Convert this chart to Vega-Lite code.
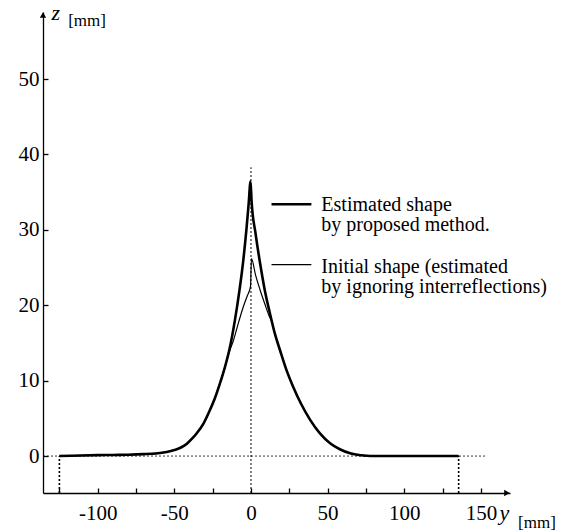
{
  "$schema": "https://vega.github.io/schema/vega-lite/v6.json",
  "width": 467,
  "height": 481,
  "autosize": {"type": "none"},
  "padding": {"left": 43, "top": 12, "right": 61, "bottom": 39},
  "background": "white",
  "config": {
    "view": {"stroke": null},
    "font": "Liberation Serif",
    "axis": {
      "grid": false,
      "domainColor": "black",
      "domainWidth": 1.3,
      "tickColor": "black",
      "tickWidth": 1.3,
      "tickSize": -5,
      "labelColor": "black",
      "labelFont": "Liberation Serif",
      "labelFontSize": 21,
      "title": null
    }
  },
  "datasets": {
    "curves": [
      {"series": "Estimated shape", "y": -125, "z": 0.0},
      {"series": "Estimated shape", "y": -110, "z": 0.08},
      {"series": "Estimated shape", "y": -100, "z": 0.12},
      {"series": "Estimated shape", "y": -90, "z": 0.15},
      {"series": "Estimated shape", "y": -80, "z": 0.18},
      {"series": "Estimated shape", "y": -70, "z": 0.25},
      {"series": "Estimated shape", "y": -62, "z": 0.35},
      {"series": "Estimated shape", "y": -55, "z": 0.55},
      {"series": "Estimated shape", "y": -50, "z": 0.8},
      {"series": "Estimated shape", "y": -46, "z": 1.1},
      {"series": "Estimated shape", "y": -42, "z": 1.6},
      {"series": "Estimated shape", "y": -38.5, "z": 2.3},
      {"series": "Estimated shape", "y": -35.5, "z": 3.0},
      {"series": "Estimated shape", "y": -31, "z": 4.3},
      {"series": "Estimated shape", "y": -27, "z": 6.0},
      {"series": "Estimated shape", "y": -23.5, "z": 7.7},
      {"series": "Estimated shape", "y": -20.3, "z": 9.6},
      {"series": "Estimated shape", "y": -17, "z": 11.8},
      {"series": "Estimated shape", "y": -14, "z": 14.2},
      {"series": "Estimated shape", "y": -10.5, "z": 18.0},
      {"series": "Estimated shape", "y": -7.5, "z": 22.0},
      {"series": "Estimated shape", "y": -5, "z": 26.0},
      {"series": "Estimated shape", "y": -3, "z": 30.0},
      {"series": "Estimated shape", "y": -1.5, "z": 33.5},
      {"series": "Estimated shape", "y": -0.3, "z": 36.4},
      {"series": "Estimated shape", "y": 0.4, "z": 33.8},
      {"series": "Estimated shape", "y": 3, "z": 29.5},
      {"series": "Estimated shape", "y": 6, "z": 25.5},
      {"series": "Estimated shape", "y": 9, "z": 22.0},
      {"series": "Estimated shape", "y": 12.4, "z": 18.9},
      {"series": "Estimated shape", "y": 15.5, "z": 16.3},
      {"series": "Estimated shape", "y": 19, "z": 14.0},
      {"series": "Estimated shape", "y": 23, "z": 11.5},
      {"series": "Estimated shape", "y": 27.5, "z": 9.2},
      {"series": "Estimated shape", "y": 32.5, "z": 7.0},
      {"series": "Estimated shape", "y": 38.6, "z": 4.8},
      {"series": "Estimated shape", "y": 45, "z": 3.0},
      {"series": "Estimated shape", "y": 51.6, "z": 1.7},
      {"series": "Estimated shape", "y": 58, "z": 0.9},
      {"series": "Estimated shape", "y": 64.7, "z": 0.36},
      {"series": "Estimated shape", "y": 72, "z": 0.1},
      {"series": "Estimated shape", "y": 78, "z": 0.0},
      {"series": "Estimated shape", "y": 100, "z": 0.0},
      {"series": "Estimated shape", "y": 135.5, "z": 0.0},
      {"series": "Initial shape", "y": -125, "z": 0.0},
      {"series": "Initial shape", "y": -110, "z": 0.08},
      {"series": "Initial shape", "y": -100, "z": 0.12},
      {"series": "Initial shape", "y": -90, "z": 0.15},
      {"series": "Initial shape", "y": -80, "z": 0.18},
      {"series": "Initial shape", "y": -70, "z": 0.25},
      {"series": "Initial shape", "y": -62, "z": 0.35},
      {"series": "Initial shape", "y": -55, "z": 0.55},
      {"series": "Initial shape", "y": -50, "z": 0.8},
      {"series": "Initial shape", "y": -46, "z": 1.1},
      {"series": "Initial shape", "y": -42, "z": 1.6},
      {"series": "Initial shape", "y": -38.5, "z": 2.3},
      {"series": "Initial shape", "y": -35.5, "z": 3.0},
      {"series": "Initial shape", "y": -31, "z": 4.3},
      {"series": "Initial shape", "y": -27, "z": 6.0},
      {"series": "Initial shape", "y": -23.5, "z": 7.7},
      {"series": "Initial shape", "y": -20.3, "z": 9.6},
      {"series": "Initial shape", "y": -17, "z": 11.8},
      {"series": "Initial shape", "y": -14, "z": 13.9},
      {"series": "Initial shape", "y": -11.5, "z": 15.3},
      {"series": "Initial shape", "y": -8, "z": 17.8},
      {"series": "Initial shape", "y": -5, "z": 19.8},
      {"series": "Initial shape", "y": -2.5, "z": 21.2},
      {"series": "Initial shape", "y": -0.3, "z": 22.5},
      {"series": "Initial shape", "y": 0.3, "z": 26.2},
      {"series": "Initial shape", "y": 3, "z": 24.0},
      {"series": "Initial shape", "y": 6, "z": 22.0},
      {"series": "Initial shape", "y": 9, "z": 20.2},
      {"series": "Initial shape", "y": 12, "z": 18.5},
      {"series": "Initial shape", "y": 14, "z": 17.6},
      {"series": "Initial shape", "y": 15.5, "z": 16.3},
      {"series": "Initial shape", "y": 19, "z": 14.0},
      {"series": "Initial shape", "y": 23, "z": 11.5},
      {"series": "Initial shape", "y": 27.5, "z": 9.2},
      {"series": "Initial shape", "y": 32.5, "z": 7.0},
      {"series": "Initial shape", "y": 38.6, "z": 4.8},
      {"series": "Initial shape", "y": 45, "z": 3.0},
      {"series": "Initial shape", "y": 51.6, "z": 1.7},
      {"series": "Initial shape", "y": 58, "z": 0.9},
      {"series": "Initial shape", "y": 64.7, "z": 0.36},
      {"series": "Initial shape", "y": 72, "z": 0.1},
      {"series": "Initial shape", "y": 78, "z": 0.0},
      {"series": "Initial shape", "y": 100, "z": 0.0},
      {"series": "Initial shape", "y": 135.5, "z": 0.0}
    ],
    "zeroline": [{"y": -135.7, "y2": 154, "z": 0}],
    "centerline": [{"y": 0, "z": -4.9, "z2": 38.3}],
    "endlines": [
      {"y": -125, "z": -4.9, "z2": 0},
      {"y": 135.5, "z": -4.9, "z2": 0}
    ],
    "legendlines": [
      {"series": "Estimated shape", "y": 13.4, "y2": 39.4, "z": 33.4},
      {"series": "Initial shape", "y": 13.4, "y2": 39.4, "z": 25.4}
    ],
    "legendtext": [
      {"y": 45.9, "z": 32.5, "label": "Estimated shape\nby proposed method."},
      {"y": 45.9, "z": 24.3, "label": "Initial shape (estimated\nby ignoring interreflections)"}
    ],
    "arrows": [
      {"y": 167, "z": -4.9, "shape": "triangle-right"},
      {"y": -135.7, "z": 58.5, "shape": "triangle-up"}
    ],
    "axisletters": [
      {"y": -130.2, "z": 57.9, "label": "z"},
      {"y": 162.2, "z": -8.5, "label": "y"}
    ],
    "axisunits": [
      {"y": -119.3, "z": 57.0, "label": "[mm]"},
      {"y": 174.3, "z": -9.55, "label": "[mm]"}
    ]
  },
  "layer": [
    {
      "data": {"name": "zeroline"},
      "mark": {"type": "rule", "color": "black", "strokeWidth": 0.8, "strokeDash": [2, 2]},
      "encoding": {
        "x": {
          "field": "y", "type": "quantitative",
          "scale": {"domain": [-135.7, 169], "nice": false, "zero": false},
          "axis": {
            "values": [-125, -100, -75, -50, -25, 0, 25, 50, 75, 100, 125, 150],
            "labelExpr": "datum.value % 50 === 0 ? '' + datum.value : ''",
            "labelPadding": 14,
            "labelBaseline": "top",
            "labelFlush": false,
            "labelOverlap": false
          }
        },
        "x2": {"field": "y2"},
        "y": {
          "field": "z", "type": "quantitative",
          "scale": {"domain": [-4.9, 58.9], "nice": false, "zero": false},
          "axis": {
            "values": [0, 10, 20, 30, 40, 50],
            "labelExpr": "'' + datum.value",
            "labelPadding": 9,
            "labelFlush": false,
            "labelOverlap": false
          }
        }
      }
    },
    {
      "data": {"name": "centerline"},
      "mark": {"type": "rule", "color": "black", "strokeWidth": 1, "strokeDash": [2, 2]},
      "encoding": {
        "x": {"field": "y", "type": "quantitative"},
        "y": {"field": "z", "type": "quantitative"},
        "y2": {"field": "z2"}
      }
    },
    {
      "data": {"name": "endlines"},
      "mark": {"type": "rule", "color": "black", "strokeWidth": 1.6, "strokeDash": [2, 2]},
      "encoding": {
        "x": {"field": "y", "type": "quantitative"},
        "y": {"field": "z", "type": "quantitative"},
        "y2": {"field": "z2"}
      }
    },
    {
      "data": {"name": "curves"},
      "mark": {"type": "line", "color": "black", "strokeJoin": "round", "interpolate": "monotone"},
      "encoding": {
        "x": {"field": "y", "type": "quantitative"},
        "y": {"field": "z", "type": "quantitative"},
        "detail": {"field": "series"},
        "strokeWidth": {
          "field": "series", "type": "nominal",
          "scale": {"domain": ["Estimated shape", "Initial shape"], "range": [2.6, 1.2]},
          "legend": null
        }
      }
    },
    {
      "data": {"name": "legendlines"},
      "mark": {"type": "rule", "color": "black"},
      "encoding": {
        "x": {"field": "y", "type": "quantitative"},
        "x2": {"field": "y2"},
        "y": {"field": "z", "type": "quantitative"},
        "strokeWidth": {
          "field": "series", "type": "nominal",
          "scale": {"domain": ["Estimated shape", "Initial shape"], "range": [2.6, 2.0]},
          "legend": null
        }
      }
    },
    {
      "data": {"name": "legendtext"},
      "mark": {"type": "text", "align": "left", "baseline": "alphabetic", "fontSize": 20, "font": "Liberation Serif", "color": "black", "lineBreak": "\n", "lineHeight": 20},
      "encoding": {
        "x": {"field": "y", "type": "quantitative"},
        "y": {"field": "z", "type": "quantitative"},
        "text": {"field": "label"}
      }
    },
    {
      "data": {"name": "arrows"},
      "mark": {"type": "point", "filled": true, "color": "black", "size": 40, "opacity": 1},
      "encoding": {
        "x": {"field": "y", "type": "quantitative"},
        "y": {"field": "z", "type": "quantitative"},
        "shape": {"field": "shape", "type": "nominal", "scale": null, "legend": null}
      }
    },
    {
      "data": {"name": "axisletters"},
      "mark": {"type": "text", "align": "left", "baseline": "alphabetic", "fontSize": 22, "fontStyle": "italic", "font": "Liberation Serif", "color": "black"},
      "encoding": {
        "x": {"field": "y", "type": "quantitative"},
        "y": {"field": "z", "type": "quantitative"},
        "text": {"field": "label"}
      }
    },
    {
      "data": {"name": "axisunits"},
      "mark": {"type": "text", "align": "left", "baseline": "alphabetic", "fontSize": 17, "font": "Liberation Serif", "color": "black"},
      "encoding": {
        "x": {"field": "y", "type": "quantitative"},
        "y": {"field": "z", "type": "quantitative"},
        "text": {"field": "label"}
      }
    }
  ]
}
